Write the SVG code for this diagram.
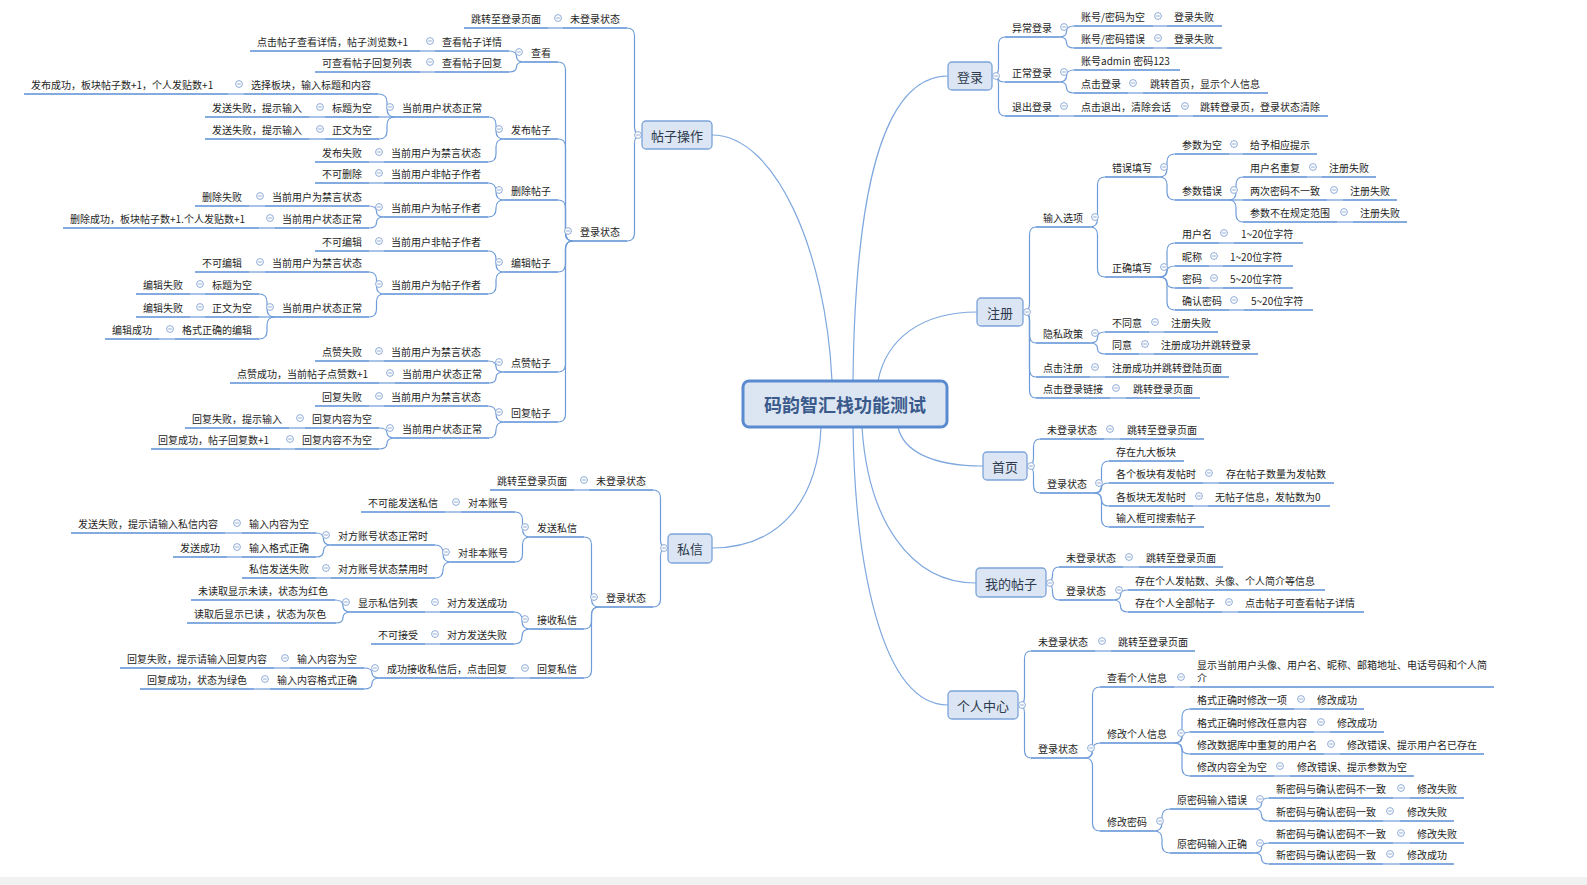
<svg xmlns="http://www.w3.org/2000/svg" xmlns:xlink="http://www.w3.org/1999/xlink" width="1587" height="885" viewBox="0 0 1587 885">
<style>
text{font-family:"Noto Sans CJK SC","Noto Sans",sans-serif;font-size:10px;fill:#1e1e1e;dominant-baseline:central}
.u{stroke:#5b8fd5;stroke-width:1.6;fill:none}
.k path{stroke:#6f9cd9;stroke-width:1.2;fill:none}
.rk path{stroke:#7fa8de;stroke-width:1.2;fill:none}
.bx{fill:#dbe5f3;stroke:#7ca4da;stroke-width:1.3}
.bt{font-size:13px;fill:#2d3a4d;text-anchor:middle}
.rt{font-size:18px;font-weight:bold;fill:#3a5a8c;text-anchor:middle}
</style>
<defs>
<g id="cc"><circle r="3.4" fill="#fff" stroke="#8eabd8" stroke-width="1"/><path d="M-1.8 0H1.8" stroke="#8eabd8" stroke-width="1"/></g>
</defs>
<rect width="1587" height="885" fill="#fff"/>
<rect x="0" y="877" width="1587" height="8" fill="#f1f1f1"/>

<g id="connectors">
<g class="rk">
<path d="M712 135 C775 135 826 250 832 381"/>
<path d="M712 548 C780 548 818 500 821 427"/>
<path d="M948 76 C880 76 855 200 853 381"/>
<path d="M977 312 C920 312 886 340 878 381"/>
<path d="M983 466 C930 466 903 450 898 427"/>
<path d="M976 583 C910 583 868 520 862 427"/>
<path d="M948 705 C880 705 855 560 853 427"/>
</g>
<g class="k">
<!-- 帖子操作 -->
<path d="M642 135 Q634.5 135 634.5 127 V36 Q634.5 28 627 28"/>
<path d="M642 135 Q634.5 135 634.5 143 V233 Q634.5 241 627 241"/>
<path d="M563 28 H548"/>
<path d="M573 241 Q565.5 241 565.5 233 V70 Q565.5 62 558 62"/>
<path d="M573 241 Q565.5 241 565.5 233 V147 Q565.5 139 558 139"/>
<path d="M573 241 Q565.5 241 565.5 233 V208 Q565.5 200 558 200"/>
<path d="M573 241 Q565.5 241 565.5 249 V264 Q565.5 272 558 272"/>
<path d="M573 241 Q565.5 241 565.5 249 V364 Q565.5 372 558 372"/>
<path d="M573 241 Q565.5 241 565.5 249 V414 Q565.5 422 558 422"/>
<path d="M524 62 Q516.5 62 516.5 56.5 Q516.5 51 509 51"/>
<path d="M524 62 Q516.5 62 516.5 67 Q516.5 72 509 72"/>
<path d="M435 51 H420"/>
<path d="M435 72 H420"/>
<path d="M504 139 Q496 139 496 131 V125 Q496 117 489 117"/>
<path d="M504 139 Q496 139 496 147 V154 Q496 162 488 162"/>
<path d="M395 117 Q387 117 387 109 V102 Q387 94 378 94"/>
<path d="M395 117 H379"/>
<path d="M395 117 Q387 117 387 125 V131 Q387 139 379 139"/>
<path d="M244 94 H228"/>
<path d="M325 117 H309"/>
<path d="M325 139 H309"/>
<path d="M384 162 H369"/>
<path d="M504 200 Q496 200 496 192 V191 Q496 183 488 183"/>
<path d="M504 200 Q496 200 496 208 V209 Q496 217 488 217"/>
<path d="M384 183 H369"/>
<path d="M384 217 Q376.5 217 376.5 211.5 Q376.5 206 369 206"/>
<path d="M384 217 Q376.5 217 376.5 222.5 Q376.5 228 369 228"/>
<path d="M265 206 H249"/>
<path d="M275 228 H259"/>
<path d="M504 272 Q496 272 496 264 V259 Q496 251 488 251"/>
<path d="M504 272 Q496 272 496 280 V286 Q496 294 488 294"/>
<path d="M384 251 H369"/>
<path d="M384 294 Q376.5 294 376.5 286 V280 Q376.5 272 369 272"/>
<path d="M384 294 Q376.5 294 376.5 302 V309 Q376.5 317 369 317"/>
<path d="M265 272 H249"/>
<path d="M275 317 Q267 317 267 309 V302 Q267 294 259 294"/>
<path d="M275 317 H259"/>
<path d="M275 317 Q267 317 267 325 V331 Q267 339 259 339"/>
<path d="M205 294 H190"/>
<path d="M205 317 H190"/>
<path d="M175 339 H159"/>
<path d="M504 372 Q496 372 496 366.5 Q496 361 488 361"/>
<path d="M504 372 Q496 372 496 377.5 Q496 383 489 383"/>
<path d="M384 361 H369"/>
<path d="M395 383 H379"/>
<path d="M504 422 Q496 422 496 414 Q496 406 488 406"/>
<path d="M504 422 Q496 422 496 430 Q496 438 489 438"/>
<path d="M384 406 H369"/>
<path d="M395 438 Q387 438 387 433 Q387 428 379 428"/>
<path d="M395 438 Q387 438 387 443.5 Q387 449 379 449"/>
<path d="M305 428 H289"/>
<path d="M295 449 H280"/>
<!-- 私信 -->
<path d="M668 548 Q660.5 548 660.5 540 V498 Q660.5 490 653 490"/>
<path d="M668 548 Q660.5 548 660.5 556 V599 Q660.5 607 653 607"/>
<path d="M589 490 H574"/>
<path d="M599 607 Q591.5 607 591.5 599 V545 Q591.5 537 584 537"/>
<path d="M599 607 Q591.5 607 591.5 615 V621 Q591.5 629 584 629"/>
<path d="M599 607 Q591.5 607 591.5 615 V670 Q591.5 678 584 678"/>
<path d="M530 537 Q522.5 537 522.5 529 V520 Q522.5 512 515 512"/>
<path d="M530 537 Q522.5 537 522.5 545 V554 Q522.5 562 515 562"/>
<path d="M461 512 H445"/>
<path d="M451 562 Q443 562 443 554 V553 Q443 545 435 545"/>
<path d="M451 562 Q443 562 443 570 Q443 578 435 578"/>
<path d="M331 545 Q323.5 545 323.5 539 Q323.5 533 316 533"/>
<path d="M331 545 Q323.5 545 323.5 551 Q323.5 557 316 557"/>
<path d="M242 533 H225"/>
<path d="M242 557 H227"/>
<path d="M331 578 H316"/>
<path d="M530 629 Q522 629 522 621 V620 Q522 612 514 612"/>
<path d="M530 629 Q522 629 522 636.5 Q522 644 514 644"/>
<path d="M440 612 H425"/>
<path d="M440 644 H425"/>
<path d="M351 612 Q343 612 343 606 Q343 600 335 600"/>
<path d="M351 612 Q343 612 343 617.5 Q343 623 336 623"/>
<path d="M530 678 H514"/>
<path d="M380 678 Q372 678 372 673 Q372 668 364 668"/>
<path d="M380 678 Q372 678 372 683.5 Q372 689 364 689"/>
<path d="M290 668 H274"/>
<path d="M270 689 H254"/>
<!-- 登录 -->
<path d="M992 76 Q998.5 76 998.5 68 V45 Q998.5 37 1005 37"/>
<path d="M992 76 Q998.5 76 998.5 79 Q998.5 82 1005 82"/>
<path d="M992 76 Q998.5 76 998.5 84 V108 Q998.5 116 1005 116"/>
<path d="M1059 37 Q1066.5 37 1066.5 31.5 Q1066.5 26 1074 26"/>
<path d="M1059 37 Q1066.5 37 1066.5 42.5 Q1066.5 48 1074 48"/>
<path d="M1153 26 H1167"/>
<path d="M1153 48 H1167"/>
<path d="M1059 82 Q1066.5 82 1066.5 76 Q1066.5 70 1074 70"/>
<path d="M1059 82 Q1066.5 82 1066.5 87.5 Q1066.5 93 1074 93"/>
<path d="M1128 93 H1143"/>
<path d="M1059 116 H1074"/>
<path d="M1178 116 H1193"/>
<!-- 注册 -->
<path d="M1023 312 Q1029.5 312 1029.5 304 V235 Q1029.5 227 1036 227"/>
<path d="M1023 312 Q1029.5 312 1029.5 320 V335 Q1029.5 343 1036 343"/>
<path d="M1023 312 Q1029.5 312 1029.5 320 V369 Q1029.5 377 1036 377"/>
<path d="M1023 312 Q1029.5 312 1029.5 320 V390 Q1029.5 398 1036 398"/>
<path d="M1090 227 Q1097.5 227 1097.5 219 V185 Q1097.5 177 1105 177"/>
<path d="M1090 227 Q1097.5 227 1097.5 235 V269 Q1097.5 277 1105 277"/>
<path d="M1159 177 Q1167 177 1167 169 V162 Q1167 154 1175 154"/>
<path d="M1159 177 Q1167 177 1167 185 V192 Q1167 200 1175 200"/>
<path d="M1229 154 H1243"/>
<path d="M1229 200 Q1236 200 1236 192 V185 Q1236 177 1243 177"/>
<path d="M1229 200 H1243"/>
<path d="M1229 200 Q1236 200 1236 208 V214 Q1236 222 1243 222"/>
<path d="M1307 177 H1322"/>
<path d="M1327 200 H1343"/>
<path d="M1337 222 H1353"/>
<path d="M1159 277 Q1167 277 1167 269 V251 Q1167 243 1175 243"/>
<path d="M1159 277 Q1167 277 1167 271.5 Q1167 266 1175 266"/>
<path d="M1159 277 Q1167 277 1167 282.5 Q1167 288 1175 288"/>
<path d="M1159 277 Q1167 277 1167 285 V302 Q1167 310 1175 310"/>
<path d="M1219 243 H1234"/>
<path d="M1209 266 H1223"/>
<path d="M1209 288 H1223"/>
<path d="M1229 310 H1244"/>
<path d="M1090 343 Q1097.5 343 1097.5 337.5 Q1097.5 332 1105 332"/>
<path d="M1090 343 Q1097.5 343 1097.5 348.5 Q1097.5 354 1105 354"/>
<path d="M1149 332 H1164"/>
<path d="M1139 354 H1154"/>
<path d="M1090 377 H1105"/>
<path d="M1110 398 H1126"/>
<!-- 首页 -->
<path d="M1027 466 Q1033.5 466 1033.5 458 V447 Q1033.5 439 1040 439"/>
<path d="M1027 466 Q1033.5 466 1033.5 474 V485 Q1033.5 493 1040 493"/>
<path d="M1104 439 H1120"/>
<path d="M1094 493 Q1101.5 493 1101.5 485 V469 Q1101.5 461 1109 461"/>
<path d="M1094 493 Q1101.5 493 1101.5 488 Q1101.5 483 1109 483"/>
<path d="M1094 493 Q1101.5 493 1101.5 499.5 Q1101.5 506 1109 506"/>
<path d="M1094 493 Q1101.5 493 1101.5 501 V519 Q1101.5 527 1109 527"/>
<path d="M1203 483 H1219"/>
<path d="M1193 506 H1208"/>
<!-- 我的帖子 -->
<path d="M1046 583 Q1052.5 583 1052.5 575 Q1052.5 567 1059 567"/>
<path d="M1046 583 Q1052.5 583 1052.5 591 V592 Q1052.5 600 1059 600"/>
<path d="M1123 567 H1139"/>
<path d="M1113 600 Q1120.5 600 1120.5 595 Q1120.5 590 1128 590"/>
<path d="M1113 600 Q1120.5 600 1120.5 606 Q1120.5 612 1128 612"/>
<path d="M1222 612 H1238"/>
<!-- 个人中心 -->
<path d="M1018 705 Q1024.5 705 1024.5 697 V659 Q1024.5 651 1031 651"/>
<path d="M1018 705 Q1024.5 705 1024.5 713 V750 Q1024.5 758 1031 758"/>
<path d="M1095 651 H1111"/>
<path d="M1085 758 Q1092.5 758 1092.5 750 V695 Q1092.5 687 1100 687"/>
<path d="M1085 758 Q1092.5 758 1092.5 750.5 Q1092.5 743 1100 743"/>
<path d="M1085 758 Q1092.5 758 1092.5 766 V823 Q1092.5 831 1100 831"/>
<path d="M1174 687 H1190"/>
<path d="M1174 743 Q1182 743 1182 735 V717 Q1182 709 1190 709"/>
<path d="M1174 743 Q1182 743 1182 737.5 Q1182 732 1190 732"/>
<path d="M1174 743 Q1182 743 1182 748.5 Q1182 754 1190 754"/>
<path d="M1174 743 Q1182 743 1182 751 V768 Q1182 776 1190 776"/>
<path d="M1294 709 H1310"/>
<path d="M1314 732 H1330"/>
<path d="M1324 754 H1340"/>
<path d="M1274 776 H1290"/>
<path d="M1154 831 Q1162 831 1162 823 V817 Q1162 809 1170 809"/>
<path d="M1154 831 Q1162 831 1162 839 V845 Q1162 853 1170 853"/>
<path d="M1254 809 Q1261.5 809 1261.5 803.5 Q1261.5 798 1269 798"/>
<path d="M1254 809 Q1261.5 809 1261.5 815 Q1261.5 821 1269 821"/>
<path d="M1254 853 Q1261.5 853 1261.5 848 Q1261.5 843 1269 843"/>
<path d="M1254 853 Q1261.5 853 1261.5 858.5 Q1261.5 864 1269 864"/>
<path d="M1393 798 H1410"/>
<path d="M1383 821 H1400"/>
<path d="M1393 843 H1410"/>
<path d="M1383 864 H1400"/>
</g>
</g>

<g id="root"><rect x="743" y="381" width="204" height="46" rx="6" fill="#dce6f2" stroke="#5a8ad0" stroke-width="3"/><text class="rt" x="845" y="404">码韵智汇栈功能测试</text></g>

<!-- 帖子操作 -->
<g id="n1"><rect class="bx" x="642" y="121" width="70" height="28" rx="4"/><text class="bt" x="677" y="135">帖子操作</text><use href="#cc" x="638" y="135"/></g>
<g id="n1a"><text x="570" y="18">未登录状态</text><path class="u" d="M563 28 H627"/><use href="#cc" x="558" y="18"/></g>
<g id="n1a1"><text x="471" y="18">跳转至登录页面</text><path class="u" d="M464 28 H548"/></g>
<g id="n1b"><text x="580" y="231">登录状态</text><path class="u" d="M573 241 H627"/><use href="#cc" x="568" y="231"/></g>
<g id="n1b1"><text x="531" y="52">查看</text><path class="u" d="M524 62 H558"/><use href="#cc" x="519" y="52"/></g>
<g id="n1b1a"><text x="442" y="41">查看帖子详情</text><path class="u" d="M435 51 H509"/><use href="#cc" x="430" y="41"/></g>
<g id="n1b1a1"><text x="257" y="41">点击帖子查看详情，帖子浏览数+1</text><path class="u" d="M250 51 H420"/></g>
<g id="n1b1b"><text x="442" y="62">查看帖子回复</text><path class="u" d="M435 72 H509"/><use href="#cc" x="430" y="62"/></g>
<g id="n1b1b1"><text x="322" y="62">可查看帖子回复列表</text><path class="u" d="M315 72 H420"/></g>
<g id="n1b2"><text x="511" y="129">发布帖子</text><path class="u" d="M504 139 H558"/><use href="#cc" x="499" y="129"/></g>
<g id="n1b2a"><text x="402" y="107">当前用户状态正常</text><path class="u" d="M395 117 H489"/><use href="#cc" x="390" y="107"/></g>
<g id="n1b2a1"><text x="251" y="84">选择板块，输入标题和内容</text><path class="u" d="M244 94 H378"/><use href="#cc" x="239" y="84"/></g>
<g id="n1b2a1a"><text x="31" y="84">发布成功，板块帖子数+1，个人发贴数+1</text><path class="u" d="M24 94 H228"/></g>
<g id="n1b2a2"><text x="332" y="107">标题为空</text><path class="u" d="M325 117 H379"/><use href="#cc" x="320" y="107"/></g>
<g id="n1b2a2a"><text x="212" y="107">发送失败，提示输入</text><path class="u" d="M205 117 H309"/></g>
<g id="n1b2a3"><text x="332" y="129">正文为空</text><path class="u" d="M325 139 H379"/><use href="#cc" x="320" y="129"/></g>
<g id="n1b2a3a"><text x="212" y="129">发送失败，提示输入</text><path class="u" d="M205 139 H309"/></g>
<g id="n1b2b"><text x="391" y="152">当前用户为禁言状态</text><path class="u" d="M384 162 H488"/><use href="#cc" x="379" y="152"/></g>
<g id="n1b2b1"><text x="322" y="152">发布失败</text><path class="u" d="M315 162 H369"/></g>
<g id="n1b3"><text x="511" y="190">删除帖子</text><path class="u" d="M504 200 H558"/><use href="#cc" x="499" y="190"/></g>
<g id="n1b3a"><text x="391" y="173">当前用户非帖子作者</text><path class="u" d="M384 183 H488"/><use href="#cc" x="379" y="173"/></g>
<g id="n1b3a1"><text x="322" y="173">不可删除</text><path class="u" d="M315 183 H369"/></g>
<g id="n1b3b"><text x="391" y="207">当前用户为帖子作者</text><path class="u" d="M384 217 H488"/><use href="#cc" x="379" y="207"/></g>
<g id="n1b3b1"><text x="272" y="196">当前用户为禁言状态</text><path class="u" d="M265 206 H369"/><use href="#cc" x="260" y="196"/></g>
<g id="n1b3b1a"><text x="202" y="196">删除失败</text><path class="u" d="M195 206 H249"/></g>
<g id="n1b3b2"><text x="282" y="218">当前用户状态正常</text><path class="u" d="M275 228 H369"/><use href="#cc" x="270" y="218"/></g>
<g id="n1b3b2a"><text x="70" y="218">删除成功，板块帖子数+1.个人发贴数+1</text><path class="u" d="M63 228 H259"/></g>
<g id="n1b4"><text x="511" y="262">编辑帖子</text><path class="u" d="M504 272 H558"/><use href="#cc" x="499" y="262"/></g>
<g id="n1b4a"><text x="391" y="241">当前用户非帖子作者</text><path class="u" d="M384 251 H488"/><use href="#cc" x="379" y="241"/></g>
<g id="n1b4a1"><text x="322" y="241">不可编辑</text><path class="u" d="M315 251 H369"/></g>
<g id="n1b4b"><text x="391" y="284">当前用户为帖子作者</text><path class="u" d="M384 294 H488"/><use href="#cc" x="379" y="284"/></g>
<g id="n1b4b1"><text x="272" y="262">当前用户为禁言状态</text><path class="u" d="M265 272 H369"/><use href="#cc" x="260" y="262"/></g>
<g id="n1b4b1a"><text x="202" y="262">不可编辑</text><path class="u" d="M195 272 H249"/></g>
<g id="n1b4b2"><text x="282" y="307">当前用户状态正常</text><path class="u" d="M275 317 H369"/><use href="#cc" x="270" y="307"/></g>
<g id="n1b4b2a"><text x="212" y="284">标题为空</text><path class="u" d="M205 294 H259"/><use href="#cc" x="200" y="284"/></g>
<g id="n1b4b2a1"><text x="143" y="284">编辑失败</text><path class="u" d="M136 294 H190"/></g>
<g id="n1b4b2b"><text x="212" y="307">正文为空</text><path class="u" d="M205 317 H259"/><use href="#cc" x="200" y="307"/></g>
<g id="n1b4b2b1"><text x="143" y="307">编辑失败</text><path class="u" d="M136 317 H190"/></g>
<g id="n1b4b2c"><text x="182" y="329">格式正确的编辑</text><path class="u" d="M175 339 H259"/><use href="#cc" x="170" y="329"/></g>
<g id="n1b4b2c1"><text x="112" y="329">编辑成功</text><path class="u" d="M105 339 H159"/></g>
<g id="n1b5"><text x="511" y="362">点赞帖子</text><path class="u" d="M504 372 H558"/><use href="#cc" x="499" y="362"/></g>
<g id="n1b5a"><text x="391" y="351">当前用户为禁言状态</text><path class="u" d="M384 361 H488"/><use href="#cc" x="379" y="351"/></g>
<g id="n1b5a1"><text x="322" y="351">点赞失败</text><path class="u" d="M315 361 H369"/></g>
<g id="n1b5b"><text x="402" y="373">当前用户状态正常</text><path class="u" d="M395 383 H489"/><use href="#cc" x="390" y="373"/></g>
<g id="n1b5b1"><text x="237" y="373">点赞成功，当前帖子点赞数+1</text><path class="u" d="M230 383 H379"/></g>
<g id="n1b6"><text x="511" y="412">回复帖子</text><path class="u" d="M504 422 H558"/><use href="#cc" x="499" y="412"/></g>
<g id="n1b6a"><text x="391" y="396">当前用户为禁言状态</text><path class="u" d="M384 406 H488"/><use href="#cc" x="379" y="396"/></g>
<g id="n1b6a1"><text x="322" y="396">回复失败</text><path class="u" d="M315 406 H369"/></g>
<g id="n1b6b"><text x="402" y="428">当前用户状态正常</text><path class="u" d="M395 438 H489"/><use href="#cc" x="390" y="428"/></g>
<g id="n1b6b1"><text x="312" y="418">回复内容为空</text><path class="u" d="M305 428 H379"/><use href="#cc" x="300" y="418"/></g>
<g id="n1b6b1a"><text x="192" y="418">回复失败，提示输入</text><path class="u" d="M185 428 H289"/></g>
<g id="n1b6b2"><text x="302" y="439">回复内容不为空</text><path class="u" d="M295 449 H379"/><use href="#cc" x="290" y="439"/></g>
<g id="n1b6b2a"><text x="158" y="439">回复成功，帖子回复数+1</text><path class="u" d="M151 449 H280"/></g>

<!-- 私信 -->
<g id="n2"><rect class="bx" x="668" y="534" width="44" height="29" rx="4"/><text class="bt" x="690" y="548">私信</text><use href="#cc" x="664" y="548"/></g>
<g id="n2a"><text x="596" y="480">未登录状态</text><path class="u" d="M589 490 H653"/><use href="#cc" x="584" y="480"/></g>
<g id="n2a1"><text x="497" y="480">跳转至登录页面</text><path class="u" d="M490 490 H574"/></g>
<g id="n2b"><text x="606" y="597">登录状态</text><path class="u" d="M599 607 H653"/><use href="#cc" x="594" y="597"/></g>
<g id="n2b1"><text x="537" y="527">发送私信</text><path class="u" d="M530 537 H584"/><use href="#cc" x="525" y="527"/></g>
<g id="n2b1a"><text x="468" y="502">对本账号</text><path class="u" d="M461 512 H515"/><use href="#cc" x="456" y="502"/></g>
<g id="n2b1a1"><text x="368" y="502">不可能发送私信</text><path class="u" d="M361 512 H445"/></g>
<g id="n2b1b"><text x="458" y="552">对非本账号</text><path class="u" d="M451 562 H515"/><use href="#cc" x="446" y="552"/></g>
<g id="n2b1b1"><text x="338" y="535">对方账号状态正常时</text><path class="u" d="M331 545 H435"/><use href="#cc" x="326" y="535"/></g>
<g id="n2b1b1a"><text x="249" y="523">输入内容为空</text><path class="u" d="M242 533 H316"/><use href="#cc" x="237" y="523"/></g>
<g id="n2b1b1a1"><text x="78" y="523">发送失败，提示请输入私信内容</text><path class="u" d="M71 533 H225"/></g>
<g id="n2b1b1b"><text x="249" y="547">输入格式正确</text><path class="u" d="M242 557 H316"/><use href="#cc" x="237" y="547"/></g>
<g id="n2b1b1b1"><text x="180" y="547">发送成功</text><path class="u" d="M173 557 H227"/></g>
<g id="n2b1b2"><text x="338" y="568">对方账号状态禁用时</text><path class="u" d="M331 578 H435"/><use href="#cc" x="326" y="568"/></g>
<g id="n2b1b2a"><text x="249" y="568">私信发送失败</text><path class="u" d="M242 578 H316"/></g>
<g id="n2b2"><text x="537" y="619">接收私信</text><path class="u" d="M530 629 H584"/><use href="#cc" x="525" y="619"/></g>
<g id="n2b2a"><text x="447" y="602">对方发送成功</text><path class="u" d="M440 612 H514"/><use href="#cc" x="435" y="602"/></g>
<g id="n2b2a1"><text x="358" y="602">显示私信列表</text><path class="u" d="M351 612 H425"/><use href="#cc" x="346" y="602"/></g>
<g id="n2b2a1a"><text x="198" y="590">未读取显示未读，状态为红色</text><path class="u" d="M191 600 H335"/></g>
<g id="n2b2a1b"><text x="194" y="613">读取后显示已读 ，状态为灰色</text><path class="u" d="M187 623 H336"/></g>
<g id="n2b2b"><text x="447" y="634">对方发送失败</text><path class="u" d="M440 644 H514"/><use href="#cc" x="435" y="634"/></g>
<g id="n2b2b1"><text x="378" y="634">不可接受</text><path class="u" d="M371 644 H425"/></g>
<g id="n2b3"><text x="537" y="668">回复私信</text><path class="u" d="M530 678 H584"/><use href="#cc" x="525" y="668"/></g>
<g id="n2b3a"><text x="387" y="668">成功接收私信后，点击回复</text><path class="u" d="M380 678 H514"/><use href="#cc" x="375" y="668"/></g>
<g id="n2b3a1"><text x="297" y="658">输入内容为空</text><path class="u" d="M290 668 H364"/><use href="#cc" x="285" y="658"/></g>
<g id="n2b3a1a"><text x="127" y="658">回复失败，提示请输入回复内容</text><path class="u" d="M120 668 H274"/></g>
<g id="n2b3a2"><text x="277" y="679">输入内容格式正确</text><path class="u" d="M270 689 H364"/><use href="#cc" x="265" y="679"/></g>
<g id="n2b3a2a"><text x="147" y="679">回复成功，状态为绿色</text><path class="u" d="M140 689 H254"/></g>

<!-- 登录 -->
<g id="n3"><rect class="bx" x="948" y="62" width="44" height="28" rx="4"/><text class="bt" x="970" y="76">登录</text><use href="#cc" x="996" y="76"/></g>
<g id="n3a"><text x="1012" y="27">异常登录</text><path class="u" d="M1005 37 H1059"/><use href="#cc" x="1064" y="27"/></g>
<g id="n3a1"><text x="1081" y="16">账号/密码为空</text><path class="u" d="M1074 26 H1153"/><use href="#cc" x="1158" y="16"/></g>
<g id="n3a1a"><text x="1174" y="16">登录失败</text><path class="u" d="M1167 26 H1222"/></g>
<g id="n3a2"><text x="1081" y="38">账号/密码错误</text><path class="u" d="M1074 48 H1153"/><use href="#cc" x="1158" y="38"/></g>
<g id="n3a2a"><text x="1174" y="38">登录失败</text><path class="u" d="M1167 48 H1222"/></g>
<g id="n3b"><text x="1012" y="72">正常登录</text><path class="u" d="M1005 82 H1059"/><use href="#cc" x="1064" y="72"/></g>
<g id="n3b1"><text x="1081" y="60">账号admin 密码123</text><path class="u" d="M1074 70 H1180"/></g>
<g id="n3b2"><text x="1081" y="83">点击登录</text><path class="u" d="M1074 93 H1128"/><use href="#cc" x="1133" y="83"/></g>
<g id="n3b2a"><text x="1150" y="83">跳转首页，显示个人信息</text><path class="u" d="M1143 93 H1268"/></g>
<g id="n3c"><text x="1012" y="106">退出登录</text><path class="u" d="M1005 116 H1059"/><use href="#cc" x="1064" y="106"/></g>
<g id="n3c1"><text x="1081" y="106">点击退出，清除会话</text><path class="u" d="M1074 116 H1178"/><use href="#cc" x="1185" y="106"/></g>
<g id="n3c1a"><text x="1200" y="106">跳转登录页，登录状态清除</text><path class="u" d="M1193 116 H1328"/></g>

<!-- 注册 -->
<g id="n4"><rect class="bx" x="977" y="298" width="46" height="28" rx="4"/><text class="bt" x="1000" y="312">注册</text><use href="#cc" x="1027" y="312"/></g>
<g id="n4a"><text x="1043" y="217">输入选项</text><path class="u" d="M1036 227 H1090"/><use href="#cc" x="1095" y="217"/></g>
<g id="n4a1"><text x="1112" y="167">错误填写</text><path class="u" d="M1105 177 H1159"/><use href="#cc" x="1164" y="167"/></g>
<g id="n4a1a"><text x="1182" y="144">参数为空</text><path class="u" d="M1175 154 H1229"/><use href="#cc" x="1234" y="144"/></g>
<g id="n4a1a1"><text x="1250" y="144">给予相应提示</text><path class="u" d="M1243 154 H1317"/></g>
<g id="n4a1b"><text x="1182" y="190">参数错误</text><path class="u" d="M1175 200 H1229"/><use href="#cc" x="1234" y="190"/></g>
<g id="n4a1b1"><text x="1250" y="167">用户名重复</text><path class="u" d="M1243 177 H1307"/><use href="#cc" x="1313" y="167"/></g>
<g id="n4a1b1a"><text x="1329" y="167">注册失败</text><path class="u" d="M1322 177 H1376"/></g>
<g id="n4a1b2"><text x="1250" y="190">两次密码不一致</text><path class="u" d="M1243 200 H1327"/><use href="#cc" x="1334" y="190"/></g>
<g id="n4a1b2a"><text x="1350" y="190">注册失败</text><path class="u" d="M1343 200 H1397"/></g>
<g id="n4a1b3"><text x="1250" y="212">参数不在规定范围</text><path class="u" d="M1243 222 H1337"/><use href="#cc" x="1344" y="212"/></g>
<g id="n4a1b3a"><text x="1360" y="212">注册失败</text><path class="u" d="M1353 222 H1407"/></g>
<g id="n4a2"><text x="1112" y="267">正确填写</text><path class="u" d="M1105 277 H1159"/><use href="#cc" x="1164" y="267"/></g>
<g id="n4a2a"><text x="1182" y="233">用户名</text><path class="u" d="M1175 243 H1219"/><use href="#cc" x="1224" y="233"/></g>
<g id="n4a2a1"><text x="1241" y="233">1~20位字符</text><path class="u" d="M1234 243 H1303"/></g>
<g id="n4a2b"><text x="1182" y="256">昵称</text><path class="u" d="M1175 266 H1209"/><use href="#cc" x="1214" y="256"/></g>
<g id="n4a2b1"><text x="1230" y="256">1~20位字符</text><path class="u" d="M1223 266 H1293"/></g>
<g id="n4a2c"><text x="1182" y="278">密码</text><path class="u" d="M1175 288 H1209"/><use href="#cc" x="1214" y="278"/></g>
<g id="n4a2c1"><text x="1230" y="278">5~20位字符</text><path class="u" d="M1223 288 H1293"/></g>
<g id="n4a2d"><text x="1182" y="300">确认密码</text><path class="u" d="M1175 310 H1229"/><use href="#cc" x="1234" y="300"/></g>
<g id="n4a2d1"><text x="1251" y="300">5~20位字符</text><path class="u" d="M1244 310 H1313"/></g>
<g id="n4b"><text x="1043" y="333">隐私政策</text><path class="u" d="M1036 343 H1090"/><use href="#cc" x="1095" y="333"/></g>
<g id="n4b1"><text x="1112" y="322">不同意</text><path class="u" d="M1105 332 H1149"/><use href="#cc" x="1155" y="322"/></g>
<g id="n4b1a"><text x="1171" y="322">注册失败</text><path class="u" d="M1164 332 H1218"/></g>
<g id="n4b2"><text x="1112" y="344">同意</text><path class="u" d="M1105 354 H1139"/><use href="#cc" x="1145" y="344"/></g>
<g id="n4b2a"><text x="1161" y="344">注册成功并跳转登录</text><path class="u" d="M1154 354 H1258"/></g>
<g id="n4c"><text x="1043" y="367">点击注册</text><path class="u" d="M1036 377 H1090"/><use href="#cc" x="1095" y="367"/></g>
<g id="n4c1"><text x="1112" y="367">注册成功并跳转登陆页面</text><path class="u" d="M1105 377 H1229"/></g>
<g id="n4d"><text x="1043" y="388">点击登录链接</text><path class="u" d="M1036 398 H1110"/><use href="#cc" x="1116" y="388"/></g>
<g id="n4d1"><text x="1133" y="388">跳转登录页面</text><path class="u" d="M1126 398 H1200"/></g>

<!-- 首页 -->
<g id="n5"><rect class="bx" x="983" y="452" width="44" height="28" rx="4"/><text class="bt" x="1005" y="466">首页</text><use href="#cc" x="1031" y="466"/></g>
<g id="n5a"><text x="1047" y="429">未登录状态</text><path class="u" d="M1040 439 H1104"/><use href="#cc" x="1110" y="429"/></g>
<g id="n5a1"><text x="1127" y="429">跳转至登录页面</text><path class="u" d="M1120 439 H1204"/></g>
<g id="n5b"><text x="1047" y="483">登录状态</text><path class="u" d="M1040 493 H1094"/><use href="#cc" x="1099" y="483"/></g>
<g id="n5b1"><text x="1116" y="451">存在九大板块</text><path class="u" d="M1109 461 H1184"/></g>
<g id="n5b2"><text x="1116" y="473">各个板块有发帖时</text><path class="u" d="M1109 483 H1203"/><use href="#cc" x="1209" y="473"/></g>
<g id="n5b2a"><text x="1226" y="473">存在帖子数量为发帖数</text><path class="u" d="M1219 483 H1334"/></g>
<g id="n5b3"><text x="1116" y="496">各板块无发帖时</text><path class="u" d="M1109 506 H1193"/><use href="#cc" x="1199" y="496"/></g>
<g id="n5b3a"><text x="1215" y="496">无帖子信息，发帖数为0</text><path class="u" d="M1208 506 H1330"/></g>
<g id="n5b4"><text x="1116" y="517">输入框可搜索帖子</text><path class="u" d="M1109 527 H1204"/></g>

<!-- 我的帖子 -->
<g id="n6"><rect class="bx" x="976" y="568" width="70" height="29" rx="4"/><text class="bt" x="1011" y="583">我的帖子</text><use href="#cc" x="1050" y="583"/></g>
<g id="n6a"><text x="1066" y="557">未登录状态</text><path class="u" d="M1059 567 H1123"/><use href="#cc" x="1129" y="557"/></g>
<g id="n6a1"><text x="1146" y="557">跳转至登录页面</text><path class="u" d="M1139 567 H1223"/></g>
<g id="n6b"><text x="1066" y="590">登录状态</text><path class="u" d="M1059 600 H1113"/><use href="#cc" x="1119" y="590"/></g>
<g id="n6b1"><text x="1135" y="580">存在个人发帖数、头像、个人简介等信息</text><path class="u" d="M1128 590 H1325"/></g>
<g id="n6b2"><text x="1135" y="602">存在个人全部帖子</text><path class="u" d="M1128 612 H1222"/><use href="#cc" x="1229" y="602"/></g>
<g id="n6b2a"><text x="1245" y="602">点击帖子可查看帖子详情</text><path class="u" d="M1238 612 H1364"/></g>

<!-- 个人中心 -->
<g id="n7"><rect class="bx" x="948" y="691" width="70" height="28" rx="4"/><text class="bt" x="983" y="705">个人中心</text><use href="#cc" x="1022" y="705"/></g>
<g id="n7a"><text x="1038" y="641">未登录状态</text><path class="u" d="M1031 651 H1095"/><use href="#cc" x="1102" y="641"/></g>
<g id="n7a1"><text x="1118" y="641">跳转至登录页面</text><path class="u" d="M1111 651 H1195"/></g>
<g id="n7b"><text x="1038" y="748">登录状态</text><path class="u" d="M1031 758 H1085"/><use href="#cc" x="1091" y="748"/></g>
<g id="n7b1"><text x="1107" y="677">查看个人信息</text><path class="u" d="M1100 687 H1174"/><use href="#cc" x="1181" y="677"/></g>
<g id="n7b1a"><text><tspan x="1197" y="664">显示当前用户头像、用户名、昵称、邮箱地址、电话号码和个人简</tspan><tspan x="1197" y="677">介</tspan></text><path class="u" d="M1190 687 H1494"/></g>
<g id="n7b2"><text x="1107" y="733">修改个人信息</text><path class="u" d="M1100 743 H1174"/><use href="#cc" x="1181" y="733"/></g>
<g id="n7b2a"><text x="1197" y="699">格式正确时修改一项</text><path class="u" d="M1190 709 H1294"/><use href="#cc" x="1301" y="699"/></g>
<g id="n7b2a1"><text x="1317" y="699">修改成功</text><path class="u" d="M1310 709 H1364"/></g>
<g id="n7b2b"><text x="1197" y="722">格式正确时修改任意内容</text><path class="u" d="M1190 732 H1314"/><use href="#cc" x="1321" y="722"/></g>
<g id="n7b2b1"><text x="1337" y="722">修改成功</text><path class="u" d="M1330 732 H1384"/></g>
<g id="n7b2c"><text x="1197" y="744">修改数据库中重复的用户名</text><path class="u" d="M1190 754 H1324"/><use href="#cc" x="1331" y="744"/></g>
<g id="n7b2c1"><text x="1347" y="744">修改错误、提示用户名已存在</text><path class="u" d="M1340 754 H1484"/></g>
<g id="n7b2d"><text x="1197" y="766">修改内容全为空</text><path class="u" d="M1190 776 H1274"/><use href="#cc" x="1280" y="766"/></g>
<g id="n7b2d1"><text x="1297" y="766">修改错误、提示参数为空</text><path class="u" d="M1290 776 H1414"/></g>
<g id="n7b3"><text x="1107" y="821">修改密码</text><path class="u" d="M1100 831 H1154"/><use href="#cc" x="1160" y="821"/></g>
<g id="n7b3a"><text x="1177" y="799">原密码输入错误</text><path class="u" d="M1170 809 H1254"/><use href="#cc" x="1260" y="799"/></g>
<g id="n7b3a1"><text x="1276" y="788">新密码与确认密码不一致</text><path class="u" d="M1269 798 H1393"/><use href="#cc" x="1401" y="788"/></g>
<g id="n7b3a1a"><text x="1417" y="788">修改失败</text><path class="u" d="M1410 798 H1464"/></g>
<g id="n7b3a2"><text x="1276" y="811">新密码与确认密码一致</text><path class="u" d="M1269 821 H1383"/><use href="#cc" x="1390" y="811"/></g>
<g id="n7b3a2a"><text x="1407" y="811">修改失败</text><path class="u" d="M1400 821 H1454"/></g>
<g id="n7b3b"><text x="1177" y="843">原密码输入正确</text><path class="u" d="M1170 853 H1254"/><use href="#cc" x="1260" y="843"/></g>
<g id="n7b3b1"><text x="1276" y="833">新密码与确认密码不一致</text><path class="u" d="M1269 843 H1393"/><use href="#cc" x="1401" y="833"/></g>
<g id="n7b3b1a"><text x="1417" y="833">修改失败</text><path class="u" d="M1410 843 H1464"/></g>
<g id="n7b3b2"><text x="1276" y="854">新密码与确认密码一致</text><path class="u" d="M1269 864 H1383"/><use href="#cc" x="1390" y="854"/></g>
<g id="n7b3b2a"><text x="1407" y="854">修改成功</text><path class="u" d="M1400 864 H1454"/></g>
</svg>
